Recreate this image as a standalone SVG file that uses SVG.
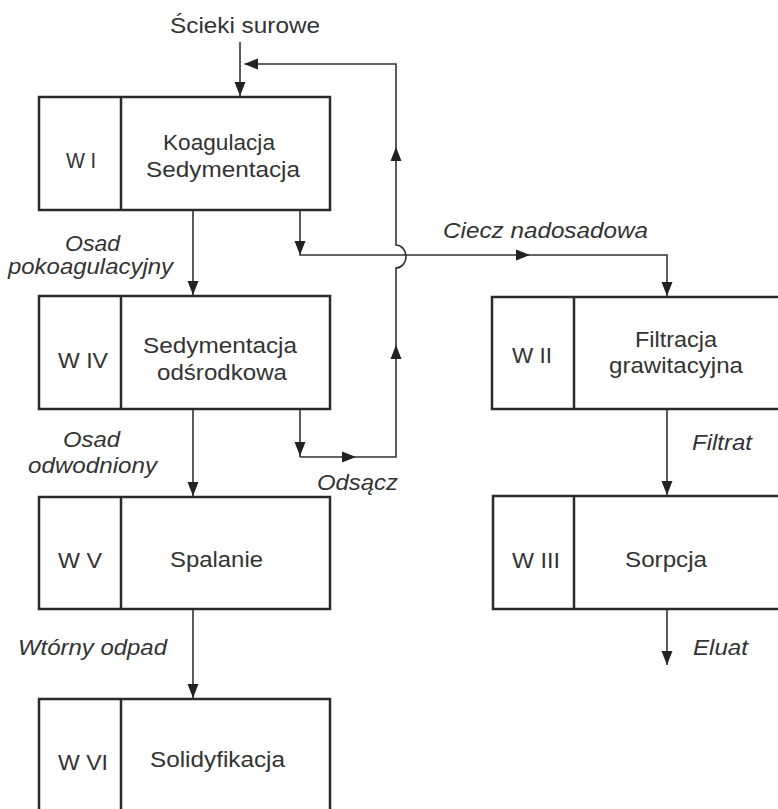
<svg xmlns="http://www.w3.org/2000/svg" xmlns:xlink="http://www.w3.org/1999/xlink" width="778" height="809" viewBox="0 0 778 809">
<style>
.box{fill:#fff;stroke:#2a2a2a;stroke-width:2.5}
.ln{fill:none;stroke:#333;stroke-width:1.6}
.t{font-family:"Liberation Sans",Arial,sans-serif;font-size:22px;fill:#333}
.i{font-style:italic}
</style>
<defs>
<path id="ah" d="M0,0 L-14,-5.5 L-14,5.5 Z" fill="#222"/>
</defs>
<rect width="778" height="809" fill="#fff"/>

<g id="connectors">
  <path class="ln" d="M240,42 V96"/>
  <use xlink:href="#ah" transform="translate(240,96) rotate(90)"/>
  <path class="ln" d="M300,457 H396 V268 A10,11.5 0 0 0 396,245 V64 H245"/>
  <use xlink:href="#ah" transform="translate(244,64) rotate(180)"/>
  <use xlink:href="#ah" transform="translate(396,147) rotate(-90)"/>
  <use xlink:href="#ah" transform="translate(396,345) rotate(-90)"/>
  <use xlink:href="#ah" transform="translate(356,457)"/>
  <path class="ln" d="M300,410 V457"/>
  <use xlink:href="#ah" transform="translate(300,456) rotate(90)"/>
  <path class="ln" d="M193,210 V295"/>
  <use xlink:href="#ah" transform="translate(193,295) rotate(90)"/>
  <path class="ln" d="M300,210 V255 H667 V296"/>
  <use xlink:href="#ah" transform="translate(300,255) rotate(90)"/>
  <use xlink:href="#ah" transform="translate(530,255)"/>
  <use xlink:href="#ah" transform="translate(667,296) rotate(90)"/>
  <path class="ln" d="M193,409 V496"/>
  <use xlink:href="#ah" transform="translate(193,496) rotate(90)"/>
  <path class="ln" d="M193,609 V698"/>
  <use xlink:href="#ah" transform="translate(193,698) rotate(90)"/>
  <path class="ln" d="M667,409 V495"/>
  <use xlink:href="#ah" transform="translate(667,495) rotate(90)"/>
  <path class="ln" d="M667,609 V665"/>
  <use xlink:href="#ah" transform="translate(667,665) rotate(90)"/>
</g>

<g id="labels">
  <text class="t" x="170" y="33" textLength="150" lengthAdjust="spacingAndGlyphs">Ścieki surowe</text>
  <text class="t i" x="65" y="251" textLength="55" lengthAdjust="spacingAndGlyphs">Osad</text>
  <text class="t i" x="8" y="274" textLength="165" lengthAdjust="spacingAndGlyphs">pokoagulacyjny</text>
  <text class="t i" x="443" y="238" textLength="205" lengthAdjust="spacingAndGlyphs">Ciecz nadosadowa</text>
  <text class="t i" x="63" y="447" textLength="57" lengthAdjust="spacingAndGlyphs">Osad</text>
  <text class="t i" x="28" y="473" textLength="129" lengthAdjust="spacingAndGlyphs">odwodniony</text>
  <text class="t i" x="317" y="490" textLength="81" lengthAdjust="spacingAndGlyphs">Odsącz</text>
  <text class="t i" x="692" y="450" textLength="60" lengthAdjust="spacingAndGlyphs">Filtrat</text>
  <text class="t i" x="18" y="655" textLength="149" lengthAdjust="spacingAndGlyphs">Wtórny odpad</text>
  <text class="t i" x="693" y="655" textLength="55" lengthAdjust="spacingAndGlyphs">Eluat</text>
</g>

<g id="WI">
  <rect class="box" x="39" y="97" width="291" height="113"/>
  <line class="box" x1="121" y1="97" x2="121" y2="210"/>
  <text class="t" x="66" y="168" textLength="30" lengthAdjust="spacingAndGlyphs">W I</text>
  <text class="t" x="163" y="150" textLength="112" lengthAdjust="spacingAndGlyphs">Koagulacja</text>
  <text class="t" x="146" y="177" textLength="154" lengthAdjust="spacingAndGlyphs">Sedymentacja</text>
</g>

<g id="WIV">
  <rect class="box" x="39" y="296" width="291" height="113"/>
  <line class="box" x1="121" y1="296" x2="121" y2="409"/>
  <text class="t" x="58" y="368" textLength="50" lengthAdjust="spacingAndGlyphs">W IV</text>
  <text class="t" x="143" y="353" textLength="154" lengthAdjust="spacingAndGlyphs">Sedymentacja</text>
  <text class="t" x="157" y="380" textLength="130" lengthAdjust="spacingAndGlyphs">odśrodkowa</text>
</g>

<g id="WV">
  <rect class="box" x="39" y="497" width="291" height="112"/>
  <line class="box" x1="121" y1="497" x2="121" y2="609"/>
  <text class="t" x="58" y="568" textLength="44" lengthAdjust="spacingAndGlyphs">W V</text>
  <text class="t" x="170" y="567" textLength="93" lengthAdjust="spacingAndGlyphs">Spalanie</text>
</g>

<g id="WVI">
  <rect class="box" x="39" y="699" width="291" height="120"/>
  <line class="box" x1="121" y1="699" x2="121" y2="819"/>
  <text class="t" x="58" y="770" textLength="50" lengthAdjust="spacingAndGlyphs">W VI</text>
  <text class="t" x="150" y="767" textLength="135" lengthAdjust="spacingAndGlyphs">Solidyfikacja</text>
</g>

<g id="WII">
  <rect class="box" x="492" y="297" width="300" height="112"/>
  <line class="box" x1="574" y1="297" x2="574" y2="409"/>
  <text class="t" x="512" y="363" textLength="40" lengthAdjust="spacingAndGlyphs">W II</text>
  <text class="t" x="635" y="347" textLength="82" lengthAdjust="spacingAndGlyphs">Filtracja</text>
  <text class="t" x="609" y="373" textLength="134" lengthAdjust="spacingAndGlyphs">grawitacyjna</text>
</g>

<g id="WIII">
  <rect class="box" x="493" y="496" width="300" height="113"/>
  <line class="box" x1="574" y1="496" x2="574" y2="609"/>
  <text class="t" x="512" y="568" textLength="48" lengthAdjust="spacingAndGlyphs">W III</text>
  <text class="t" x="625" y="567" textLength="82" lengthAdjust="spacingAndGlyphs">Sorpcja</text>
</g>
</svg>
